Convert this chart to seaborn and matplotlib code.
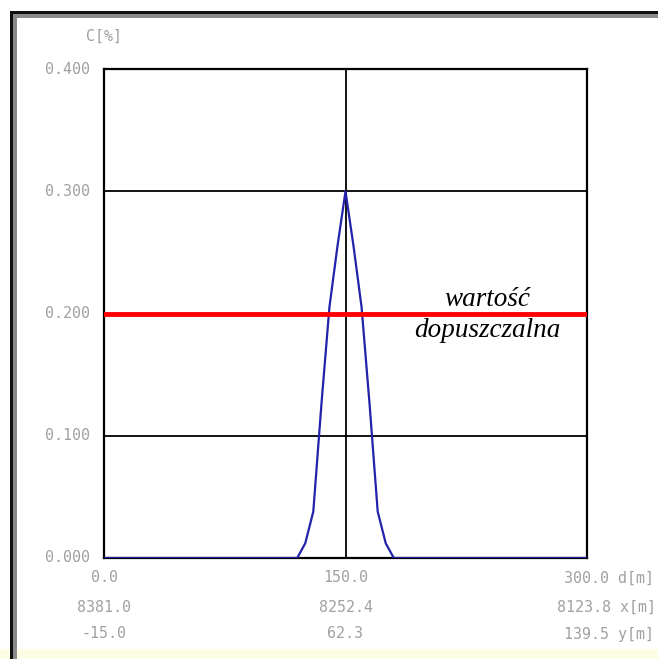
import matplotlib
matplotlib.use("Agg")
import matplotlib.pyplot as plt
import matplotlib.patches as mpatches
import seaborn as sns
import pandas as pd

# ---- data ----
distance_m = [0, 120, 125, 130, 135, 140, 145, 150, 155, 160, 165, 170, 175, 180, 300]
concentration = [0.0, 0.0, 0.012, 0.038, 0.125, 0.205, 0.255, 0.300, 0.255, 0.205, 0.125, 0.038, 0.012, 0.0, 0.0]
limit_value = 0.2
y_ticks = [0.0, 0.1, 0.2, 0.3, 0.4]
y_tick_labels = ["0.000", "0.100", "0.200", "0.300", "0.400"]
x_ticks = [0.0, 150.0, 300.0]
d_labels = ["0.0", "150.0", "300.0"]
x_labels = ["8381.0", "8252.4", "8123.8"]
y_labels = ["-15.0", "62.3", "139.5"]
units = ["d[m]", "x[m]", "y[m]"]
limit_text = ["wartość", "dopuszczalna"]

df = pd.DataFrame({"d": distance_m, "C": concentration})

sns.set_style("white")
W, H = 658, 659
fig = plt.figure(figsize=(W / 100, H / 100), dpi=100)
fig.patch.set_facecolor("white")

# outer window frame and bottom strip
fig.patches.append(mpatches.Rectangle((0, 0), 1, 10 / H, transform=fig.transFigure,
                                      facecolor="#fdfde6", edgecolor="none", zorder=0))
fig.patches.append(mpatches.Rectangle((10 / W, 0), 7 / W, (H - 11) / H, transform=fig.transFigure,
                                      facecolor="#8a8a8a", edgecolor="none", zorder=1))
fig.patches.append(mpatches.Rectangle((10 / W, 0), 2.5 / W, (H - 11) / H, transform=fig.transFigure,
                                      facecolor="#111111", edgecolor="none", zorder=2))
fig.patches.append(mpatches.Rectangle((10 / W, (H - 18) / H), 1, 7 / H, transform=fig.transFigure,
                                      facecolor="#8a8a8a", edgecolor="none", zorder=1))
fig.patches.append(mpatches.Rectangle((10 / W, (H - 13.5) / H), 1, 2.5 / H, transform=fig.transFigure,
                                      facecolor="#111111", edgecolor="none", zorder=2))

ax = fig.add_axes([104 / W, (H - 558) / H, 483 / W, 489 / H])
ax.set_facecolor("white")

# grid
for yv in [0.1, 0.2, 0.3]:
    ax.axhline(yv, color="black", lw=1.3, zorder=1)
ax.axvline(150, color="black", lw=1.3, zorder=1)

sns.lineplot(data=df, x="d", y="C", ax=ax, color="#2222aa", lw=1.6, zorder=3)
ax.axhline(limit_value, color="#ff0000", lw=3.5, zorder=4)

ax.set_xlim(0, 300)
ax.set_ylim(0, 0.4)
ax.set_xticks(x_ticks)
ax.set_yticks(y_ticks)
ax.set_xticklabels([])
ax.set_yticklabels([])
ax.tick_params(length=0)
ax.set_xlabel("")
ax.set_ylabel("")
for s in ax.spines.values():
    s.set_color("black")
    s.set_linewidth(1.6)

tick_font = dict(family="DejaVu Sans Mono", fontsize=10.8, color="#a0a0a0")
for yv, lab in zip(y_ticks, y_tick_labels):
    ax.text(-14 / 483 * 300, yv, lab, ha="right", va="center", **tick_font)
ax.text(0, 0.4 + 33 / 489 * 0.4, "C[%]", ha="center", va="center", **tick_font)

px = 300 / 483
row_offsets = [20, 49, 76]
right_starts = [564, 557, 564]
rows = [d_labels, x_labels, y_labels]
for r, (off, labs) in enumerate(zip(row_offsets, rows)):
    yy = -off / 489 * 0.4
    for xv, lab in zip(x_ticks, labs):
        if xv < 300:
            ax.text(xv, yy, lab, ha="center", va="center", clip_on=False, **tick_font)
        else:
            ax.text((right_starts[r] - 104) * px, yy, lab + " " + units[r],
                    ha="left", va="center", clip_on=False, **tick_font)

serif = dict(family="Liberation Serif", style="italic", fontsize=19.5, color="black")
ax.text(238, 0.2 + 14 / 489 * 0.4, limit_text[0], ha="center", va="center", **serif)
ax.text(238, 0.2 - 17 / 489 * 0.4, limit_text[1], ha="center", va="center", **serif)

fig.savefig("out.png", dpi=100, facecolor="white")
